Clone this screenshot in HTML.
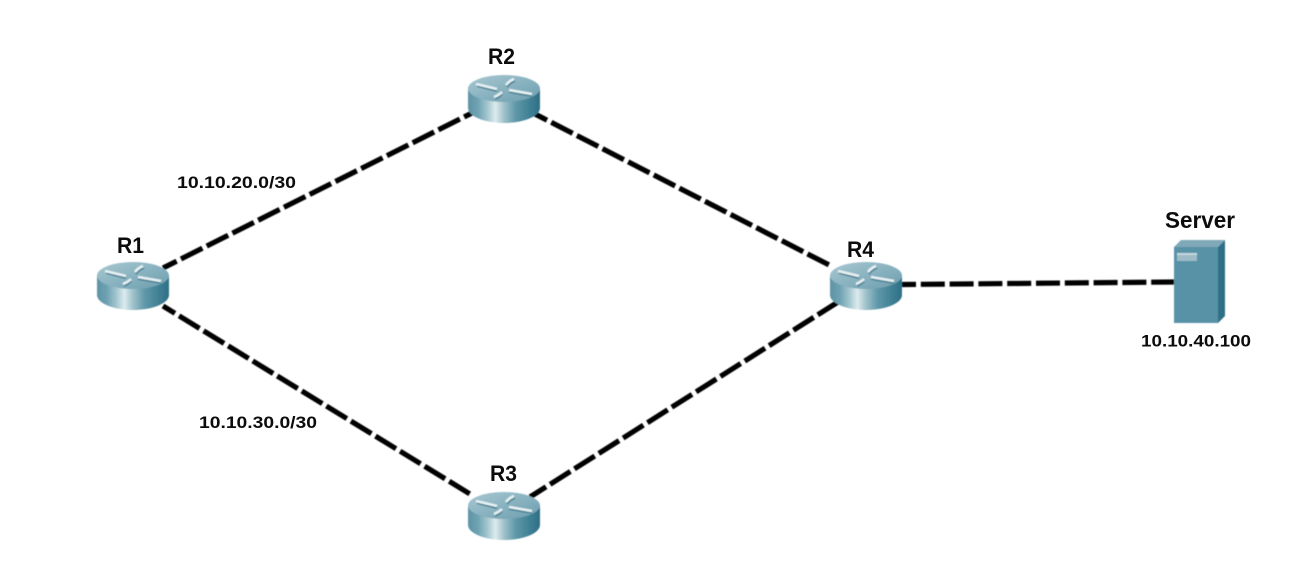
<!DOCTYPE html>
<html>
<head>
<meta charset="utf-8">
<style>
html,body{margin:0;padding:0;background:#fff;width:1314px;height:584px;overflow:hidden}
svg{display:block}
text{font-family:"Liberation Sans",sans-serif;font-weight:bold;fill:#0c0c0c}
</style>
</head>
<body>
<svg width="1314" height="584" viewBox="0 0 1314 584" xmlns="http://www.w3.org/2000/svg">
<defs>
<linearGradient id="body" x1="0" x2="1" y1="0" y2="0">
<stop offset="0" stop-color="#5d93a4"/>
<stop offset=".14" stop-color="#6fa3b2"/>
<stop offset=".27" stop-color="#a3c6cf"/>
<stop offset=".38" stop-color="#dcebee"/>
<stop offset=".5" stop-color="#9fc1ca"/>
<stop offset=".66" stop-color="#5f98a9"/>
<stop offset=".88" stop-color="#3d7d92"/>
<stop offset="1" stop-color="#2f6f85"/>
</linearGradient>
<linearGradient id="top" x1="0" x2="1" y1="0" y2="1">
<stop offset="0" stop-color="#a8c8d2"/>
<stop offset="1" stop-color="#6b9dae"/>
</linearGradient>
<g id="router">
<path d="M-36 13 V33 C-36 41 -20 48 0 48 C20 48 36 41 36 33 V13 Z" fill="url(#body)"/>
<ellipse cx="0" cy="13.5" rx="36" ry="13.5" fill="url(#top)"/>
<g stroke="#4f8496" stroke-width="2" fill="none">
<path d="M-27 11 L-7 16"/>
<path d="M5 17 L28 21"/>
<path d="M3 12 Q6 8 11 6"/>
<path d="M-9 24 Q-4 22 -2 19"/>
</g>
<g stroke="#e6f0f3" stroke-width="2.6" fill="none">
<path d="M-28 9 L-7 14"/>
<path d="M5 15 L28 19"/>
<path d="M2 10 Q5 6 10 4"/>
<path d="M-10 22 Q-5 20 -2 17"/>
</g>
</g>
<filter id="soft" x="-5%" y="-5%" width="110%" height="110%"><feGaussianBlur stdDeviation="0.5"/></filter>
</defs>
<g filter="url(#soft)">
<g stroke="#030303" stroke-width="5.2" fill="none" stroke-dasharray="24 4.8">
<path d="M163 268 L472 113" stroke-dashoffset="8.7"/>
<path d="M535 114 L833 267" stroke-dashoffset="10.5"/>
<path d="M163 306 L470 494" stroke-dashoffset="10"/>
<path d="M530 497 L838 302" stroke-dashoffset="5"/>
<path d="M902 284.5 L1174 282" stroke-dashoffset="10"/>
</g>
<use href="#router" x="133" y="262"/>
<use href="#router" x="504" y="75"/>
<use href="#router" x="504" y="492"/>
<use href="#router" x="866" y="262"/>
<polygon points="1174,247 1181,240 1225,240 1218,247" fill="#7fa9b8"/>
<polygon points="1218,247 1225,240 1225,316 1218,323" fill="#2f6f85"/>
<rect x="1174" y="247" width="44" height="76" fill="#5892a7"/>
<rect x="1177" y="253" width="20" height="8" fill="#9dbcc8"/>
<rect x="1177" y="253" width="20" height="2" fill="#c2d6dd"/>
</g>
<g filter="url(#soft)" style="filter:none">
<text x="117" y="253" font-size="22" textLength="27" lengthAdjust="spacingAndGlyphs">R1</text>
<text x="488" y="64" font-size="22" textLength="27" lengthAdjust="spacingAndGlyphs">R2</text>
<text x="490" y="481" font-size="22" textLength="27" lengthAdjust="spacingAndGlyphs">R3</text>
<text x="847" y="257" font-size="22" textLength="27" lengthAdjust="spacingAndGlyphs">R4</text>
<text x="1165" y="228" font-size="23" textLength="70" lengthAdjust="spacingAndGlyphs">Server</text>
<text x="177" y="188" font-size="17" textLength="119" lengthAdjust="spacingAndGlyphs">10.10.20.0/30</text>
<text x="199" y="428" font-size="17" textLength="118" lengthAdjust="spacingAndGlyphs">10.10.30.0/30</text>
<text x="1141" y="346.5" font-size="17" textLength="110" lengthAdjust="spacingAndGlyphs">10.10.40.100</text>
</g>
</svg>
</body>
</html>
